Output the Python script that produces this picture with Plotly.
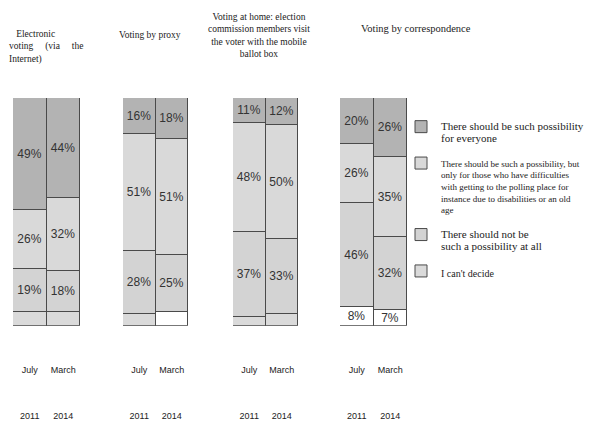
import plotly.graph_objects as go

# ---- data ----
groups = [
    "Electronic voting (via the Internet)",
    "Voting by proxy",
    "Voting at home: election commission members visit the voter with the mobile ballot box",
    "Voting by correspondence",
]
periods = ["July 2011", "March 2014"]
tick_text = ["July<br><br><br><br>2011", "March<br><br><br><br>2014"]

series_names = [
    "There should be such possibility for everyone",
    "There should be such a possibility, but only for those who have difficulties with getting to the polling place for instance due to disabilities or an old age",
    "There should not be such a possibility at all",
    "I can't decide",
]
everyone = [[49, 44], [16, 18], [11, 12], [20, 26]]
only_some = [[26, 32], [51, 51], [48, 50], [26, 35]]
should_not = [[19, 18], [28, 25], [37, 33], [46, 32]]
cant_decide = [[6, 6], [5, 6], [4, 5], [8, 7]]

# ---- styles ----
legend_labels = [
    '<span style="font-size:11px">There should be such possibility<br>for everyone</span>',
    '<span style="font-size:9px">There should be such a possibility, but<br>only for those who have difficulties<br>'
    'with getting to the polling place for<br>instance due to disabilities or an old<br>age</span>',
    '<span style="font-size:11px">There should not be<br>such a possibility at all</span>',
    '<span style="font-size:10px">I can\'t decide</span>',
]
top_col = "#b3b3b3"
mid_col = "#d9d9d9"
low_col = "#d3d3d3"
cant_cols = [["#dadada", "#dadada"], ["#dadada", "#ffffff"], ["#dadada", "#dadada"], ["#ffffff", "#ffffff"]]

x_domains = [(13, 80), (123, 188), (233, 298), (340, 407)]
W, H = 609, 421
y_dom = [1 - 342 / H, 1 - 103 / H]

fig = go.Figure()

stack_order = [  # bottom to top
    (3, cant_decide, None),
    (2, should_not, low_col),
    (1, only_some, mid_col),
    (0, everyone, top_col),
]

for g in range(4):
    xa = "x" if g == 0 else f"x{g+1}"
    ya = "y" if g == 0 else f"y{g+1}"
    for sidx, vals, col in stack_order:
        v = vals[g]
        colors = cant_cols[g] if col is None else [col, col]
        fig.add_trace(go.Bar(
            x=periods, y=v,
            xaxis=xa, yaxis=ya,
            name=legend_labels[sidx],
            legendgroup=f"s{sidx}",
            legendrank=sidx + 1,
            showlegend=(g == 0),
            marker=dict(color=colors, line=dict(color="#4a4a4a", width=1)),
            text=[f"{val}%" if val >= 7 else "" for val in v],
            textposition="inside",
            insidetextanchor="middle",
            textangle=0,
            constraintext="none",
            textfont=dict(family="Arial", size=12, color="#333333"),
            hoverinfo="skip",
        ))

layout = dict(
    width=W, height=H,
    margin=dict(l=0, r=0, t=0, b=0),
    paper_bgcolor="white", plot_bgcolor="white",
    barmode="stack", bargap=0,
    showlegend=True,
    legend=dict(
        x=401 / W, y=1 - 120 / H, xanchor="left", yanchor="top",
        font=dict(family="Liberation Serif", size=9, color="#222222"),
        traceorder="grouped", tracegroupgap=10, valign="top",
        bgcolor="rgba(0,0,0,0)", itemclick=False,
    ),
    font=dict(family="Arial", color="#222222"),
)
for g in range(4):
    sfx = "" if g == 0 else str(g + 1)
    x0, x1 = x_domains[g]
    layout[f"xaxis{sfx}"] = dict(
        domain=[x0 / W, x1 / W], anchor=f"y{sfx}",
        type="category", categoryorder="array", categoryarray=periods,
        tickvals=periods, ticktext=tick_text,
        ticks="outside", ticklen=35, tickcolor="rgba(0,0,0,0)",
        showline=False, showgrid=False, zeroline=False,
        tickfont=dict(family="Arial", size=9, color="#222222"),
        fixedrange=True,
    )
    layout[f"yaxis{sfx}"] = dict(
        domain=y_dom, anchor=f"x{sfx}", range=[0, 100],
        visible=False, fixedrange=True,
    )
fig.update_layout(**layout)

# group titles
serif = "Liberation Serif"
nb = "\u00a0"
titles = [
    dict(text=f"{nb*3}Electronic<br>voting{nb*5}(via{nb*5}the<br>Internet)", x=7, y=28, align="left", size=9.5),
    dict(text="Voting by proxy", x=117, y=29, align="left", size=9.5),
    dict(text="Voting at home: election<br>commission members visit<br>the voter with the mobile<br>ballot box", x=206, y=11, align="center", size=9.5),
    dict(text="Voting by correspondence", x=359, y=22, align="left", size=10.5),
]
for t in titles:
    fig.add_annotation(
        text=t["text"], xref="paper", yref="paper",
        x=t["x"] / W, y=1 - t["y"] / H, xanchor="left", yanchor="top",
        align=t["align"], showarrow=False,
        font=dict(family=serif, size=t["size"], color="#222222"),
    )

fig.write_html("out.html", config={"displayModeBar": False},
               post_script="document.body.style.margin='0px';")
